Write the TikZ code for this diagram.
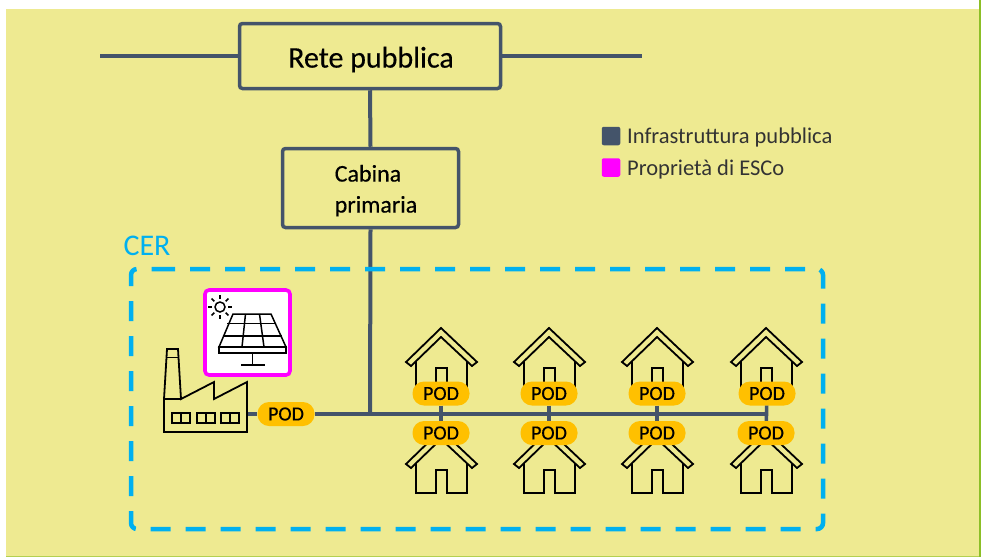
\documentclass[tikz,border=0pt]{standalone}
\usepackage{fontspec}
\setmainfont{Carlito}
\newfontfamily\heavy[FakeBold=0.35]{Carlito}
\definecolor{bgy}{HTML}{EEEA91}
\definecolor{infra}{HTML}{44546A}
\definecolor{cer}{HTML}{00B0F0}
\definecolor{podc}{HTML}{FFC000}
\definecolor{mag}{HTML}{FF00FF}
\definecolor{edgeg}{HTML}{8CBF26}
\definecolor{legt}{HTML}{333333}
\tikzset{
  x=1pt,y=-1pt,
  infraline/.style={draw=infra,line width=4pt},
  titlebox/.style={draw=infra,line width=3.5pt,rounded corners=3pt,fill=bgy,inner sep=0pt,text=black},
  podnode/.style={fill=podc,rounded corners=11.5pt,minimum width=57pt,minimum height=24pt,inner sep=0pt,font=\heavy\fontsize{20}{20}\selectfont,text=black},
  icon/.style={draw=black,line width=1.8pt,line join=miter},
  legsq/.style={rounded corners=2pt,minimum size=18.5pt,inner sep=0pt},
  legtext/.style={anchor=west,inner sep=0pt,text=legt,font=\fontsize{22.5}{22.5}\selectfont}
}
\newcommand{\myhouse}[2]{%
  \draw[icon,fill=bgy] (#1-35,#2+34) -- (#1,#2) -- (#1+36,#2+34) -- (#1+31,#2+38) -- (#1,#2+9) -- (#1-30,#2+38) -- cycle;
  \draw[icon] (#1-25,#2+33) -- (#1-25,#2+63) -- (#1-5,#2+63) -- (#1-5,#2+40) -- (#1+6,#2+40) -- (#1+6,#2+63) -- (#1+26,#2+63) -- (#1+26,#2+33);
}
\begin{document}
\begin{tikzpicture}
\useasboundingbox (0,0) rectangle (981,557);
\fill[white] (0,0) rectangle (981,557);
\fill[bgy] (6,9) rectangle (979,557);
\fill[edgeg] (979,0) rectangle (981,557);
\fill[edgeg!60!bgy] (6,555.5) rectangle (979,557);

% legend
\node[legsq,fill=infra] (lega) at (611,136) {};
\node[legsq,fill=mag] (legb) at (611,167.5) {};
\node[legtext] (legat) at (627,137) {Infrastruttura pubblica};
\node[legtext] (legbt) at (627,169) {Proprietà di ESCo};

% top boxes
\node[titlebox,minimum width=261pt,minimum height=65pt,font=\heavy\fontsize{30}{30}\selectfont] (rete) at (370,56) {\rule{0pt}{28pt}\hspace*{2pt}Rete pubblica};
\node[titlebox,minimum width=176pt,minimum height=79pt,align=left,font=\heavy\fontsize{24}{31}\selectfont] (cabina) at (370.5,188) {\rule{0pt}{22pt}\hspace*{11pt}Cabina\\\hspace*{11pt}primaria};
\coordinate (gl) at (100,56);
\coordinate (gr) at (642,56);
\coordinate (tee) at (370,414);
\draw[infraline] (gl) -- (rete.west);
\draw[infraline] (rete.east) -- (gr);
\draw[infraline] (rete.south) -- (cabina.north);
\draw[infraline] (cabina.south) -- (tee);

% CER
\node[text=cer,font=\fontsize{30}{30}\selectfont,inner sep=0pt] (cerl) at (147,246) {CER};
\draw[draw=cer,line width=4.5pt,dash pattern=on 20pt off 15pt,rounded corners=6pt] (155,269) -- (823,269) -- (823,529) -- (131,529) -- (131,269) -- (155,269);

% bus and PODs
\node[podnode] (pf) at (286,414) {POD};
\coordinate (fr) at (248,414);
\coordinate (be) at (766,414);
\draw[infraline] (fr) -- (pf);
\draw[infraline] (pf) -- (be);
\foreach \n/\x in {1/441,2/549,3/657,4/766}{
  \myhouse{\x}{328}
  \myhouse{\x}{430}
}
\foreach \n/\x/\xa in {1/441/441,2/549/549,3/657/657,4/766/767}{
  \node[podnode] (pu\n) at (\xa,393.5) {POD};
  \node[podnode] (pd\n) at (\x,433) {POD};
  \draw[draw=infra,line width=3.6pt] (pu\n) -- (pd\n);
}

% factory
\draw[icon] (164,399) -- (167,349) -- (178,349) -- (181,399) -- (214,382) -- (214,399) -- (247,382) -- (247,432) -- (164,432) -- cycle;
\draw[icon] (164,399) -- (181,399);
\draw[icon] (166,357.5) -- (179,357.5);
\foreach \x in {172,197,221}{
  \draw[icon] (\x,413) rectangle (\x+18,423);
  \draw[icon] (\x+9,413) -- (\x+9,423);
}

% PV panel
\node[draw=mag,fill=white,line width=3.6pt,rounded corners=4pt,minimum size=85pt,inner sep=0pt] (pv) at (247.5,332.5) {};
\begin{scope}[line width=1.5pt,draw=black,line join=miter]
\draw (233,314) -- (271,314) -- (286,347) -- (219,347) -- cycle;
\draw (219,347) rectangle (286,353);
\draw (227,323.5) -- (276,323.5);
\draw (222.5,336) -- (281.5,336);
\draw (245.5,314) -- (242,347);
\draw (259.5,314) -- (264,347);
\draw (252.5,353) -- (252.5,365);
\draw (241,365) -- (264.5,365);
\draw (220,307) circle (5);
\foreach \a in {0,45,...,315}{
  \draw (220,307) ++(\a:8) -- ++(\a:4);
}
\end{scope}
\end{tikzpicture}
\end{document}
